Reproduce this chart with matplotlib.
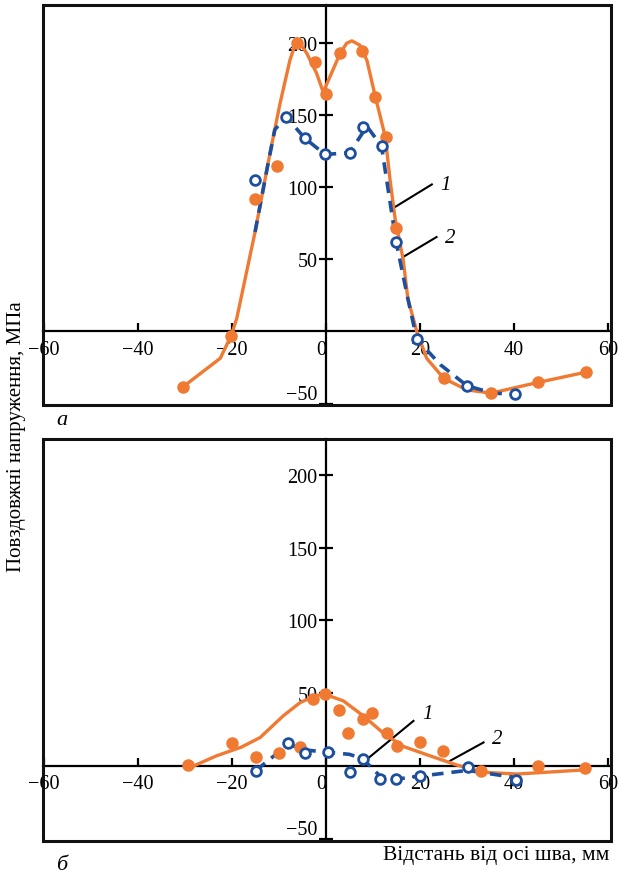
import matplotlib.pyplot as plt
from matplotlib.patches import Rectangle

plt.rcParams['font.family'] = ['Liberation Serif', 'DejaVu Serif']
plt.rcParams['font.size'] = 14.5

ORANGE = '#f07a32'
BLUE = '#1d4f9e'

# panel a: measured points
a1_x = [-30.5, -20.2, -15.2, -10.5, -6.2, -2.3, 0.0, 3.0, 7.6, 10.4, 12.8, 14.8, 25.0, 35.1, 45.0, 55.2]
a1_y = [-38.6, -3.0, 92.0, 114.7, 200.0, 187.0, 165.0, 193.0, 194.5, 163.0, 135.0, 71.7, -32.4, -42.8, -35.4, -28.3]
a2_x = [-15.2, -8.5, -4.5, -0.2, 5.0, 7.9, 11.8, 14.9, 19.3, 30.0, 40.2]
a2_y = [104.8, 149.0, 134.0, 122.8, 124.0, 141.8, 128.5, 62.3, -5.3, -37.7, -43.4]

# panel a: curves
a1c_x = [-30.5, -22.5, -20.2, -19.0, -15.1, -11.9, -9.8, -7.7, -6.2, -4.1, -2.0, -0.6, 3.0, 4.4, 5.5, 7.2, 8.7,
         10.4, 12.6, 13.6, 14.7, 16.4, 17.4, 19.3, 21.4, 25.0, 29.9, 35.1, 45.0, 55.2]
a1c_y = [-38.6, -18.6, -3.0, 9.0, 69.0, 124.0, 158.0, 188.0, 203.0, 193.0, 179.0, 166.0, 193.0, 200.0, 201.6, 198.6, 188.0,
         164.0, 135.0, 105.5, 78.0, 50.0, 22.8, 0.0, -18.6, -32.4, -40.5, -42.8, -35.4, -28.3]
a2c_x = [-15.1, -12.6, -10.9, -8.5, -4.5, -0.2, 5.0, 8.7, 11.8, 14.9, 17.4, 19.3, 24.3, 30.0, 35.5, 40.2]
a2c_y = [69.0, 112.0, 140.0, 149.0, 134.0, 122.8, 124.0, 142.3, 128.5, 62.3, 22.8, -5.3, -23.0, -37.7, -42.8, -43.4]

# panel b: measured points
b1_x = [-29.3, -19.9, -14.9, -10.1, -5.5, -2.7, -0.2, 2.8, 4.7, 7.9, 9.7, 12.9, 15.0, 19.9, 24.8, 33.0, 45.0, 55.0]
b1_y = [0.7, 15.8, 6.4, 8.7, 12.8, 45.9, 49.3, 38.6, 22.6, 32.2, 36.3, 22.6, 13.9, 16.2, 10.5, -3.6, -0.2, -1.4]
b2_x = [-14.9, -8.0, -4.5, 0.4, 5.0, 7.8, 11.5, 14.9, 19.9, 30.1, 40.4]
b2_y = [-3.2, 15.5, 8.9, 9.4, -4.3, 4.8, -8.9, -8.9, -7.1, -0.9, -9.4]

# panel b: curves
b1c_x = [-28.2, -23.3, -18.0, -14.0, -9.1, -5.5, -2.0, 0.0, 3.7, 7.9, 12.2, 16.4, 22.1, 27.8, 33.5, 40.6, 54.8]
b1c_y = [0.0, 7.0, 13.0, 19.6, 34.5, 43.6, 48.6, 49.0, 44.7, 34.5, 22.6, 13.5, 7.0, 0.7, -4.3, -5.5, -2.7]
b2c_x = [-14.9, -8.0, -4.5, 0.4, 5.0, 7.8, 11.5, 14.9, 19.9, 30.1, 40.4]
b2c_y = [-3.0, 15.0, 11.0, 9.5, 8.0, 5.0, -7.0, -9.0, -7.0, -3.0, -8.0]

xticks = [-60, -40, -20, 0, 20, 40, 60]
yticks = [-50, 50, 100, 150, 200]

fig = plt.figure(figsize=(6.19, 8.78), dpi=100)
ax_a = fig.add_axes([0.0695, 0.5376, 0.9175, 0.4556])
ax_b = fig.add_axes([0.0695, 0.041, 0.9175, 0.458])


def style(ax, ylim):
    ax.set_xlim(-60.2, 60.6)
    ax.set_ylim(*ylim)
    for s in ['top', 'right']:
        ax.spines[s].set_visible(False)
    ax.spines['left'].set_position(('data', 0))
    ax.spines['bottom'].set_position(('data', 0))
    ax.spines['left'].set_linewidth(1.6)
    ax.spines['bottom'].set_linewidth(1.6)
    ax.add_patch(Rectangle((0, 0), 1, 1, transform=ax.transAxes, fill=False,
                           lw=2.2, edgecolor='#111111', clip_on=False, zorder=5))
    ax.set_xticks(xticks)
    ax.set_yticks(yticks)
    ax.set_xticklabels([str(v).replace('-', '\u2212') for v in xticks])
    ax.set_yticklabels([str(v).replace('-', '\u2212') for v in yticks])
    ax.tick_params(axis='x', direction='in', length=6, width=1.6, pad=6)
    ax.tick_params(axis='y', direction='inout', length=10, width=1.6, pad=1)
    for lab in ax.get_xticklabels():
        if lab.get_text() == '0':
            lab.set_ha('right')
    for lab in ax.get_yticklabels():
        if lab.get_text() == '\u221250':
            lab.set_va('bottom')


def draw(ax, c1x, c1y, p1x, p1y, c2x, c2y, p2x, p2y):
    ax.plot(c1x, c1y, color=ORANGE, lw=2.4, solid_capstyle='round', zorder=3)
    ax.plot(p1x, p1y, 'o', color=ORANGE, ms=8, zorder=4)
    ax.plot(c2x, c2y, color=BLUE, lw=2.6, ls=(0, (3.2, 2.2)), zorder=3)
    ax.plot(p2x, p2y, 'o', mfc='white', mec=BLUE, mew=2, ms=7, zorder=4)


style(ax_a, (-51, 226.5))
draw(ax_a, a1c_x, a1c_y, a1_x, a1_y, a2c_x, a2c_y, a2_x, a2_y)
ax_a.plot([14.0, 22.5], [85, 102], color='black', lw=1.5)
ax_a.plot([16.4, 23.5], [51.7, 65.5], color='black', lw=1.5)
ax_a.text(24.3, 102, '1', style='italic', va='center', fontsize=15)
ax_a.text(25.3, 65, '2', style='italic', va='center', fontsize=15)

style(ax_b, (-51.5, 224.7))
draw(ax_b, b1c_x, b1c_y, b1_x, b1_y, b2c_x, b2c_y, b2_x, b2_y)
ax_b.plot([8.3, 18.6], [3.6, 31], color='black', lw=1.5)
ax_b.plot([26.4, 33.5], [3.6, 16.2], color='black', lw=1.5)
ax_b.text(20.5, 36, '1', style='italic', va='center', fontsize=15)
ax_b.text(35.2, 19, '2', style='italic', va='center', fontsize=15)

fig.text(0.027, 0.503, 'Повздовжні напруження, МПа', rotation=90, ha='center', va='center', fontsize=15)
fig.text(0.985, 0.026, 'Відстань від осі шва, мм', ha='right', va='center', fontsize=15.5)
fig.text(0.1, 0.521, 'а', style='italic', ha='center', va='center', fontsize=16)
fig.text(0.1, 0.014, 'б', style='italic', ha='center', va='center', fontsize=16)

fig.savefig('out.png', dpi=100)
